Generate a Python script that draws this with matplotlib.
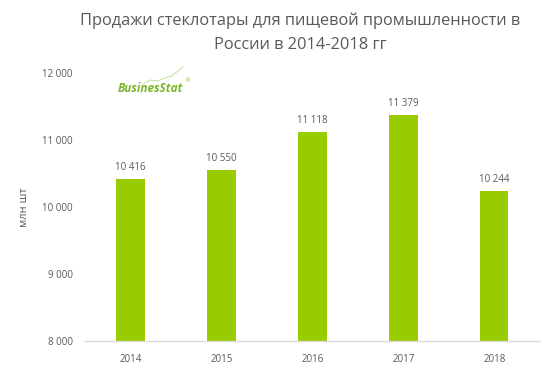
import matplotlib.pyplot as plt

years = ["2014", "2015", "2016", "2017", "2018"]
sales = [10416, 10550, 11118, 11379, 10244]
labels = ["10 416", "10 550", "11 118", "11 379", "10 244"]
yticks = [8000, 9000, 10000, 11000, 12000]
ytick_labels = ["8 000", "9 000", "10 000", "11 000", "12 000"]

plt.rcParams["font.family"] = ["Open Sans", "DejaVu Sans"]
grey = "#595959"
green = "#99CC00"

fig = plt.figure(figsize=(5.56, 3.72), dpi=100)
ax = fig.add_axes([0.153, 0.083, 0.818, 0.721])

x = range(len(years))
ax.bar(x, sales, width=0.31, color=green, zorder=2)

for i, (v, lab) in enumerate(zip(sales, labels)):
    ax.text(i, v + 90, lab, ha="center", va="bottom", fontsize=7, color=grey)

ax.set_xlim(-0.5, len(years) - 0.5)
ax.set_ylim(8000, 12000)
ax.set_yticks(yticks)
ax.set_yticklabels(ytick_labels, fontsize=7, color=grey)
ax.set_xticks(list(x))
ax.set_xticklabels(years, fontsize=7, color=grey)
ax.tick_params(axis="x", length=0, pad=9)
ax.tick_params(axis="y", length=0, pad=9)

for s in ["top", "right", "left"]:
    ax.spines[s].set_visible(False)
ax.spines["bottom"].set_color("#D9D9D9")
ax.spines["bottom"].set_linewidth(1)

ax.set_ylabel("млн шт", fontsize=8, color=grey)
ax.yaxis.set_label_coords(-0.12, 0.5)

fig.text(0.54, 0.945, "Продажи стеклотары для пищевой промышленности в",
         ha="center", va="center", fontsize=11.8, color=grey)
fig.text(0.54, 0.878, "России в 2014-2018 гг",
         ha="center", va="center", fontsize=11.8, color=grey)

# logo
fig.text(0.212, 0.761, "BusinesStat", fontsize=8.5, color="#7DB52B",
         fontweight="bold", fontstyle="italic", ha="left", va="center")
fig.text(0.334, 0.782, "®", fontsize=4, color="#7DB52B", ha="left", va="center")
fig.lines.append(plt.Line2D([0.257, 0.270, 0.282, 0.297, 0.309, 0.329],
                            [0.774, 0.785, 0.782, 0.790, 0.796, 0.820],
                            transform=fig.transFigure, color="#B5D98A", lw=0.6))

fig.savefig("out.png", dpi=100)
